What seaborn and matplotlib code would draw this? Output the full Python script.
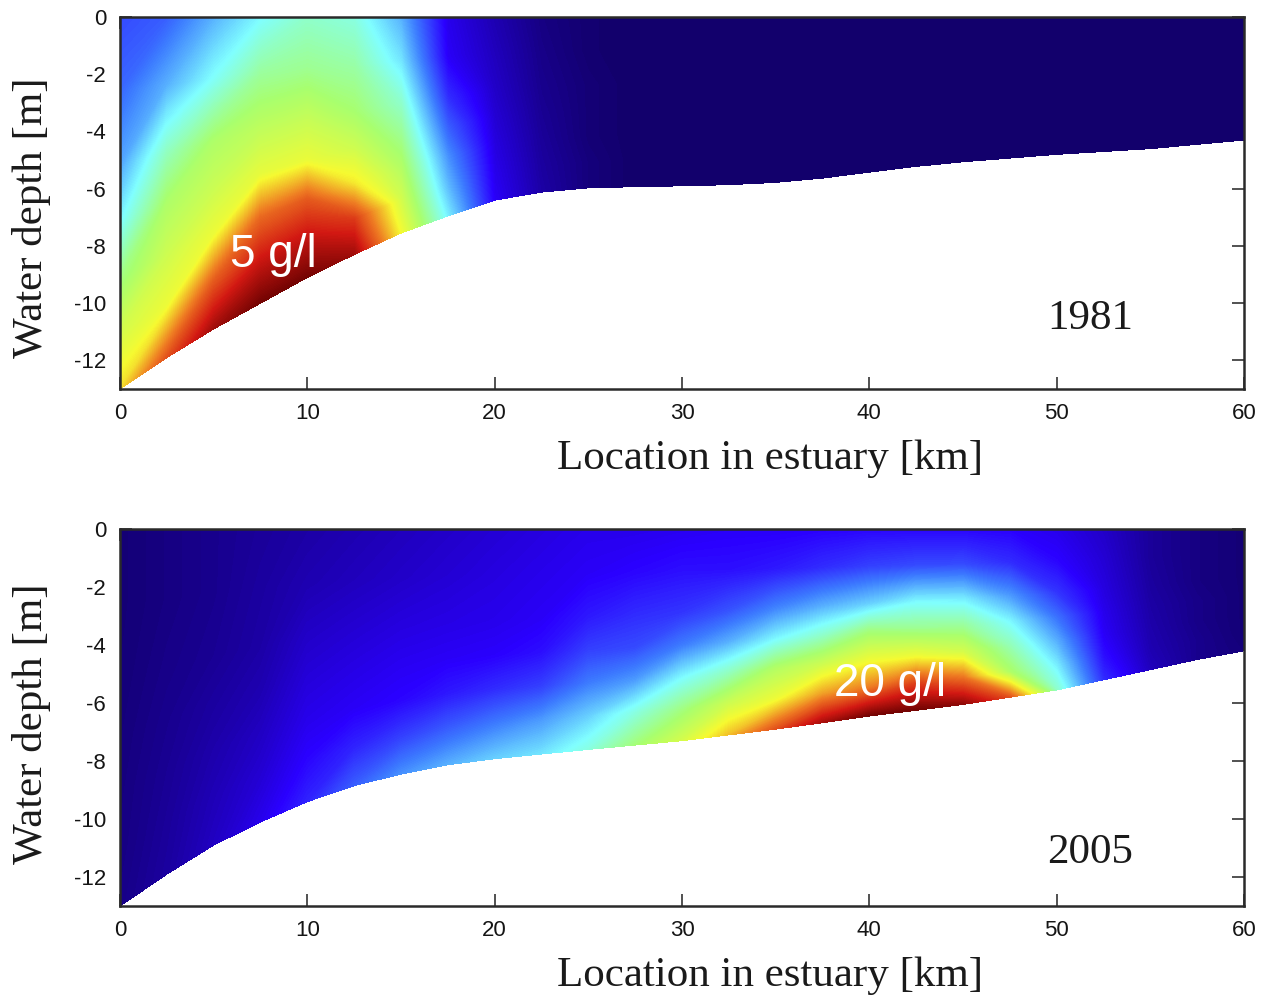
import numpy as np
import matplotlib
matplotlib.use("Agg")
import matplotlib.pyplot as plt
import seaborn as sns

# ---------------- data ----------------
km = [0, 2.5, 5, 7.5, 10, 12.5, 15, 17.5, 20, 22.5, 25, 27.5, 30,
      32.5, 35, 37.5, 40, 42.5, 45, 47.5, 50, 52.5, 55, 57.5, 60]
sigma_levels = [0.0, 0.2, 0.4, 0.55, 0.7, 0.85, 1.0]   # fraction of local depth (surface -> bed)

bed_1981 = [-13.0, -11.9, -10.9, -10.0, -9.1, -8.3, -7.55, -6.95, -6.4, -6.12, -5.97, -5.93, -5.9,
            -5.86, -5.78, -5.63, -5.42, -5.22, -5.06, -4.93, -4.8, -4.7, -4.6, -4.45, -4.3]
bed_2005 = [-13.0, -11.9, -10.9, -10.1, -9.4, -8.85, -8.45, -8.13, -7.92, -7.76, -7.6, -7.45, -7.3,
            -7.1, -6.9, -6.68, -6.45, -6.25, -6.05, -5.8, -5.55, -5.2, -4.85, -4.5, -4.2]

# relative concentration (0 = lowest colour, 1 = highest colour), one list per sigma level
conc_1981_s000 = [0.20, 0.22, 0.30, 0.37, 0.42, 0.40, 0.30, 0.11, 0.06, 0.02, 0.005,
                  0, 0, 0, 0, 0, 0, 0, 0, 0, 0, 0, 0, 0, 0]
conc_1981_s020 = [0.23, 0.30, 0.38, 0.46, 0.47, 0.45, 0.35, 0.12, 0.07, 0.025, 0.005,
                  0, 0, 0, 0, 0, 0, 0, 0, 0, 0, 0, 0, 0, 0]
conc_1981_s040 = [0.29, 0.43, 0.51, 0.54, 0.55, 0.50, 0.42, 0.17, 0.08, 0.03, 0.01,
                  0, 0, 0, 0, 0, 0, 0, 0, 0, 0, 0, 0, 0, 0]
conc_1981_s055 = [0.37, 0.51, 0.555, 0.60, 0.605, 0.56, 0.47, 0.22, 0.09, 0.035, 0.01,
                  0, 0, 0, 0, 0, 0, 0, 0, 0, 0, 0, 0, 0, 0]
conc_1981_s070 = [0.48, 0.56, 0.61, 0.77, 0.79, 0.64, 0.52, 0.27, 0.10, 0.04, 0.01,
                  0, 0, 0, 0, 0, 0, 0, 0, 0, 0, 0, 0, 0, 0]
conc_1981_s085 = [0.57, 0.61, 0.79, 0.88, 0.89, 0.83, 0.57, 0.31, 0.11, 0.045, 0.015,
                  0, 0, 0, 0, 0, 0, 0, 0, 0, 0, 0, 0, 0, 0]
conc_1981_s100 = [0.65, 0.80, 0.93, 0.98, 0.98, 0.93, 0.62, 0.36, 0.12, 0.05, 0.015,
                  0, 0, 0, 0, 0, 0, 0, 0, 0, 0, 0, 0, 0, 0]

conc_2005_s000 = [0.01, 0.02, 0.03, 0.04, 0.05, 0.06, 0.07, 0.08, 0.09, 0.10, 0.11, 0.11, 0.115,
                  0.12, 0.12, 0.125, 0.13, 0.13, 0.13, 0.125, 0.11, 0.08, 0.04, 0.02, 0.01]
conc_2005_s020 = [0.01, 0.02, 0.03, 0.045, 0.06, 0.07, 0.08, 0.09, 0.10, 0.11, 0.12, 0.13, 0.14,
                  0.14, 0.15, 0.17, 0.19, 0.20, 0.20, 0.17, 0.13, 0.09, 0.04, 0.02, 0.01]
conc_2005_s040 = [0.012, 0.025, 0.035, 0.05, 0.08, 0.09, 0.10, 0.105, 0.11, 0.12, 0.15, 0.17, 0.18,
                  0.21, 0.26, 0.30, 0.33, 0.37, 0.36, 0.28, 0.18, 0.10, 0.045, 0.02, 0.01]
conc_2005_s055 = [0.015, 0.03, 0.045, 0.06, 0.095, 0.105, 0.115, 0.12, 0.125, 0.14, 0.19, 0.20, 0.25,
                  0.30, 0.37, 0.42, 0.49, 0.47, 0.46, 0.37, 0.24, 0.11, 0.05, 0.025, 0.01]
conc_2005_s070 = [0.018, 0.035, 0.055, 0.075, 0.11, 0.12, 0.13, 0.15, 0.17, 0.19, 0.25, 0.28, 0.37,
                  0.43, 0.52, 0.56, 0.61, 0.61, 0.57, 0.44, 0.30, 0.12, 0.055, 0.025, 0.01]
conc_2005_s085 = [0.02, 0.04, 0.065, 0.09, 0.13, 0.16, 0.19, 0.22, 0.25, 0.28, 0.33, 0.40, 0.48,
                  0.56, 0.61, 0.71, 0.75, 0.82, 0.76, 0.51, 0.36, 0.14, 0.06, 0.03, 0.01]
conc_2005_s100 = [0.025, 0.045, 0.075, 0.11, 0.16, 0.22, 0.27, 0.30, 0.33, 0.35, 0.40, 0.49, 0.57,
                  0.68, 0.80, 0.92, 0.98, 0.98, 0.95, 0.80, 0.42, 0.17, 0.07, 0.03, 0.015]

peak_labels = ["5 g/l", "20 g/l"]
peak_pos = [(8.2, -8.3), (41.1, -5.35)]
year_labels = ["1981", "2005"]
year_pos = [(51.8, -10.55), (51.8, -11.15)]
x_ticks = [0, 10, 20, 30, 40, 50, 60]
y_ticks = [0, -2, -4, -6, -8, -10, -12]
x_label = "Location in estuary [km]"
y_label = "Water depth [m]"

# ---------------- style ----------------
sns.set_theme(style="ticks")
plt.rcParams["font.family"] = ["Liberation Sans", "DejaVu Sans"]
plt.rcParams["axes.unicode_minus"] = False

jet_like = sns.blend_palette(
    ["#12006c", "#2a00ff", "#3c7cff", "#80ffff", "#a8ff6e", "#f6fa30",
     "#ee7a22", "#d21812", "#640000"], n_colors=256, as_cmap=True)

fig = plt.figure(figsize=(12.61, 10.0), dpi=100)
ax_top = fig.add_axes([120 / 1261, 1 - 389 / 1000, 1124 / 1261, 372 / 1000])
ax_bot = fig.add_axes([120 / 1261, 1 - 906 / 1000, 1124 / 1261, 377 / 1000])

panels = [
    (ax_top, bed_1981, [conc_1981_s000, conc_1981_s020, conc_1981_s040, conc_1981_s055,
                        conc_1981_s070, conc_1981_s085, conc_1981_s100]),
    (ax_bot, bed_2005, [conc_2005_s000, conc_2005_s020, conc_2005_s040, conc_2005_s055,
                        conc_2005_s070, conc_2005_s085, conc_2005_s100]),
]

serif = ["Liberation Serif", "DejaVu Serif"]
levels = np.linspace(0, 1, 257)

for i, (ax, bed, rows) in enumerate(panels):
    X, S = np.meshgrid(np.array(km), np.array(sigma_levels))
    Z = S * np.array(bed)[None, :]
    C = np.array(rows)
    ax.set_axisbelow(True)
    ax.contourf(X, Z, C, levels=levels, cmap=jet_like, vmin=0, vmax=1,
                zorder=2, antialiased=False)
    ax.set_xlim(0, 60)
    ax.set_ylim(-13, 0)
    ax.set_xticks(x_ticks)
    ax.set_yticks(y_ticks)
    ax.tick_params(axis="both", direction="in", length=8.5, width=1.2,
                   color="#333333", labelsize=16, labelcolor="#151515",
                   right=True, top=True, pad=10)
    for sp in ax.spines.values():
        sp.set_linewidth(1.8)
        sp.set_color("#2a2a2a")
        sp.set_zorder(5)
    ax.set_xlabel(x_label, fontsize=31, family=serif, color="#1a1a1a")
    ax.set_ylabel(y_label, fontsize=31, family=serif, color="#1a1a1a")
    ax.xaxis.set_label_coords(0.578, -0.135)
    ax.yaxis.set_label_coords(-0.061, 0.46 if i == 0 else 0.483)
    ax.text(*peak_pos[i], peak_labels[i], color="white", fontsize=33,
            ha="center", va="center", zorder=6)
    ax.text(*year_pos[i], year_labels[i], color="#1a1a1a", fontsize=31,
            family=serif, ha="center", va="center", zorder=6)

fig.savefig("out.png", dpi=100, facecolor="white")
